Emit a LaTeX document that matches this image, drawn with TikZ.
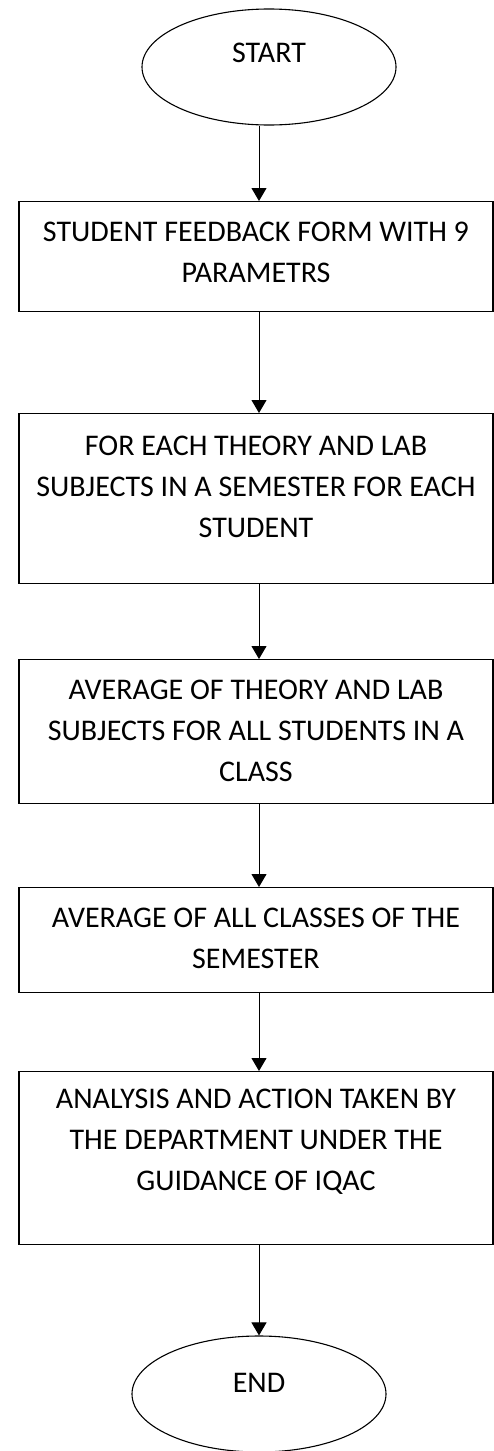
\documentclass[tikz,border=0pt]{standalone}
\usepackage{fontspec}
\setmainfont{Carlito}
\usetikzlibrary{arrows.meta, shapes.geometric}

\begin{document}
\begin{tikzpicture}[x=1pt, y=-1pt, >={Triangle[width=15pt, length=13pt]},
    terminal/.style={draw, ellipse, line width=1.1pt, minimum width=254pt,
      minimum height=116pt, inner sep=0pt, font=\fontsize{30}{41}\selectfont},
    stagebox/.style={draw, rectangle, line width=1.1pt, anchor=north,
      text width=474pt, inner sep=0pt, align=flush center,
      font=\fontsize{30}{41}\selectfont},
    flow/.style={->, line width=1pt}]
  \useasboundingbox (0,0) rectangle (494,1451);

  % Start and end
  \node[terminal, text depth=28pt] (start) at (269, 67) {START};
  \node[terminal, text depth=22pt] (end)   at (259,1394) {END};

  % Process boxes
  \node[stagebox, text height=40pt, text depth=70pt] (feedback) at (256, 201)
    {STUDENT FEEDBACK FORM WITH 9\\ PARAMETRS};
  \node[stagebox, text height=42pt, text depth=128pt] (subjects) at (256, 413)
    {FOR EACH THEORY AND LAB\\ SUBJECTS IN A SEMESTER FOR EACH\\ STUDENT};
  \node[stagebox, text height=40pt, text depth=104pt] (classavg) at (256, 659)
    {AVERAGE OF THEORY AND LAB\\ SUBJECTS FOR ALL STUDENTS IN A\\ CLASS};
  \node[stagebox, text height=40pt, text depth=65pt] (semavg) at (256, 887)
    {AVERAGE OF ALL CLASSES OF THE\\ SEMESTER};
  \node[stagebox, text height=37pt, text depth=136pt] (action) at (256,1071)
    {ANALYSIS AND ACTION TAKEN BY\\ THE DEPARTMENT UNDER THE\\ GUIDANCE OF IQAC};

  % Arrows
  \draw[flow] (start.south -| end) -- (end |- feedback.north);
  \draw[flow] (feedback.south -| end) -- (end |- subjects.north);
  \draw[flow] (subjects.south -| end) -- (end |- classavg.north);
  \draw[flow] (classavg.south -| end) -- (end |- semavg.north);
  \draw[flow] (semavg.south -| end) -- (end |- action.north);
  \draw[flow] (action.south -| end) -- (end);
\end{tikzpicture}
\end{document}
